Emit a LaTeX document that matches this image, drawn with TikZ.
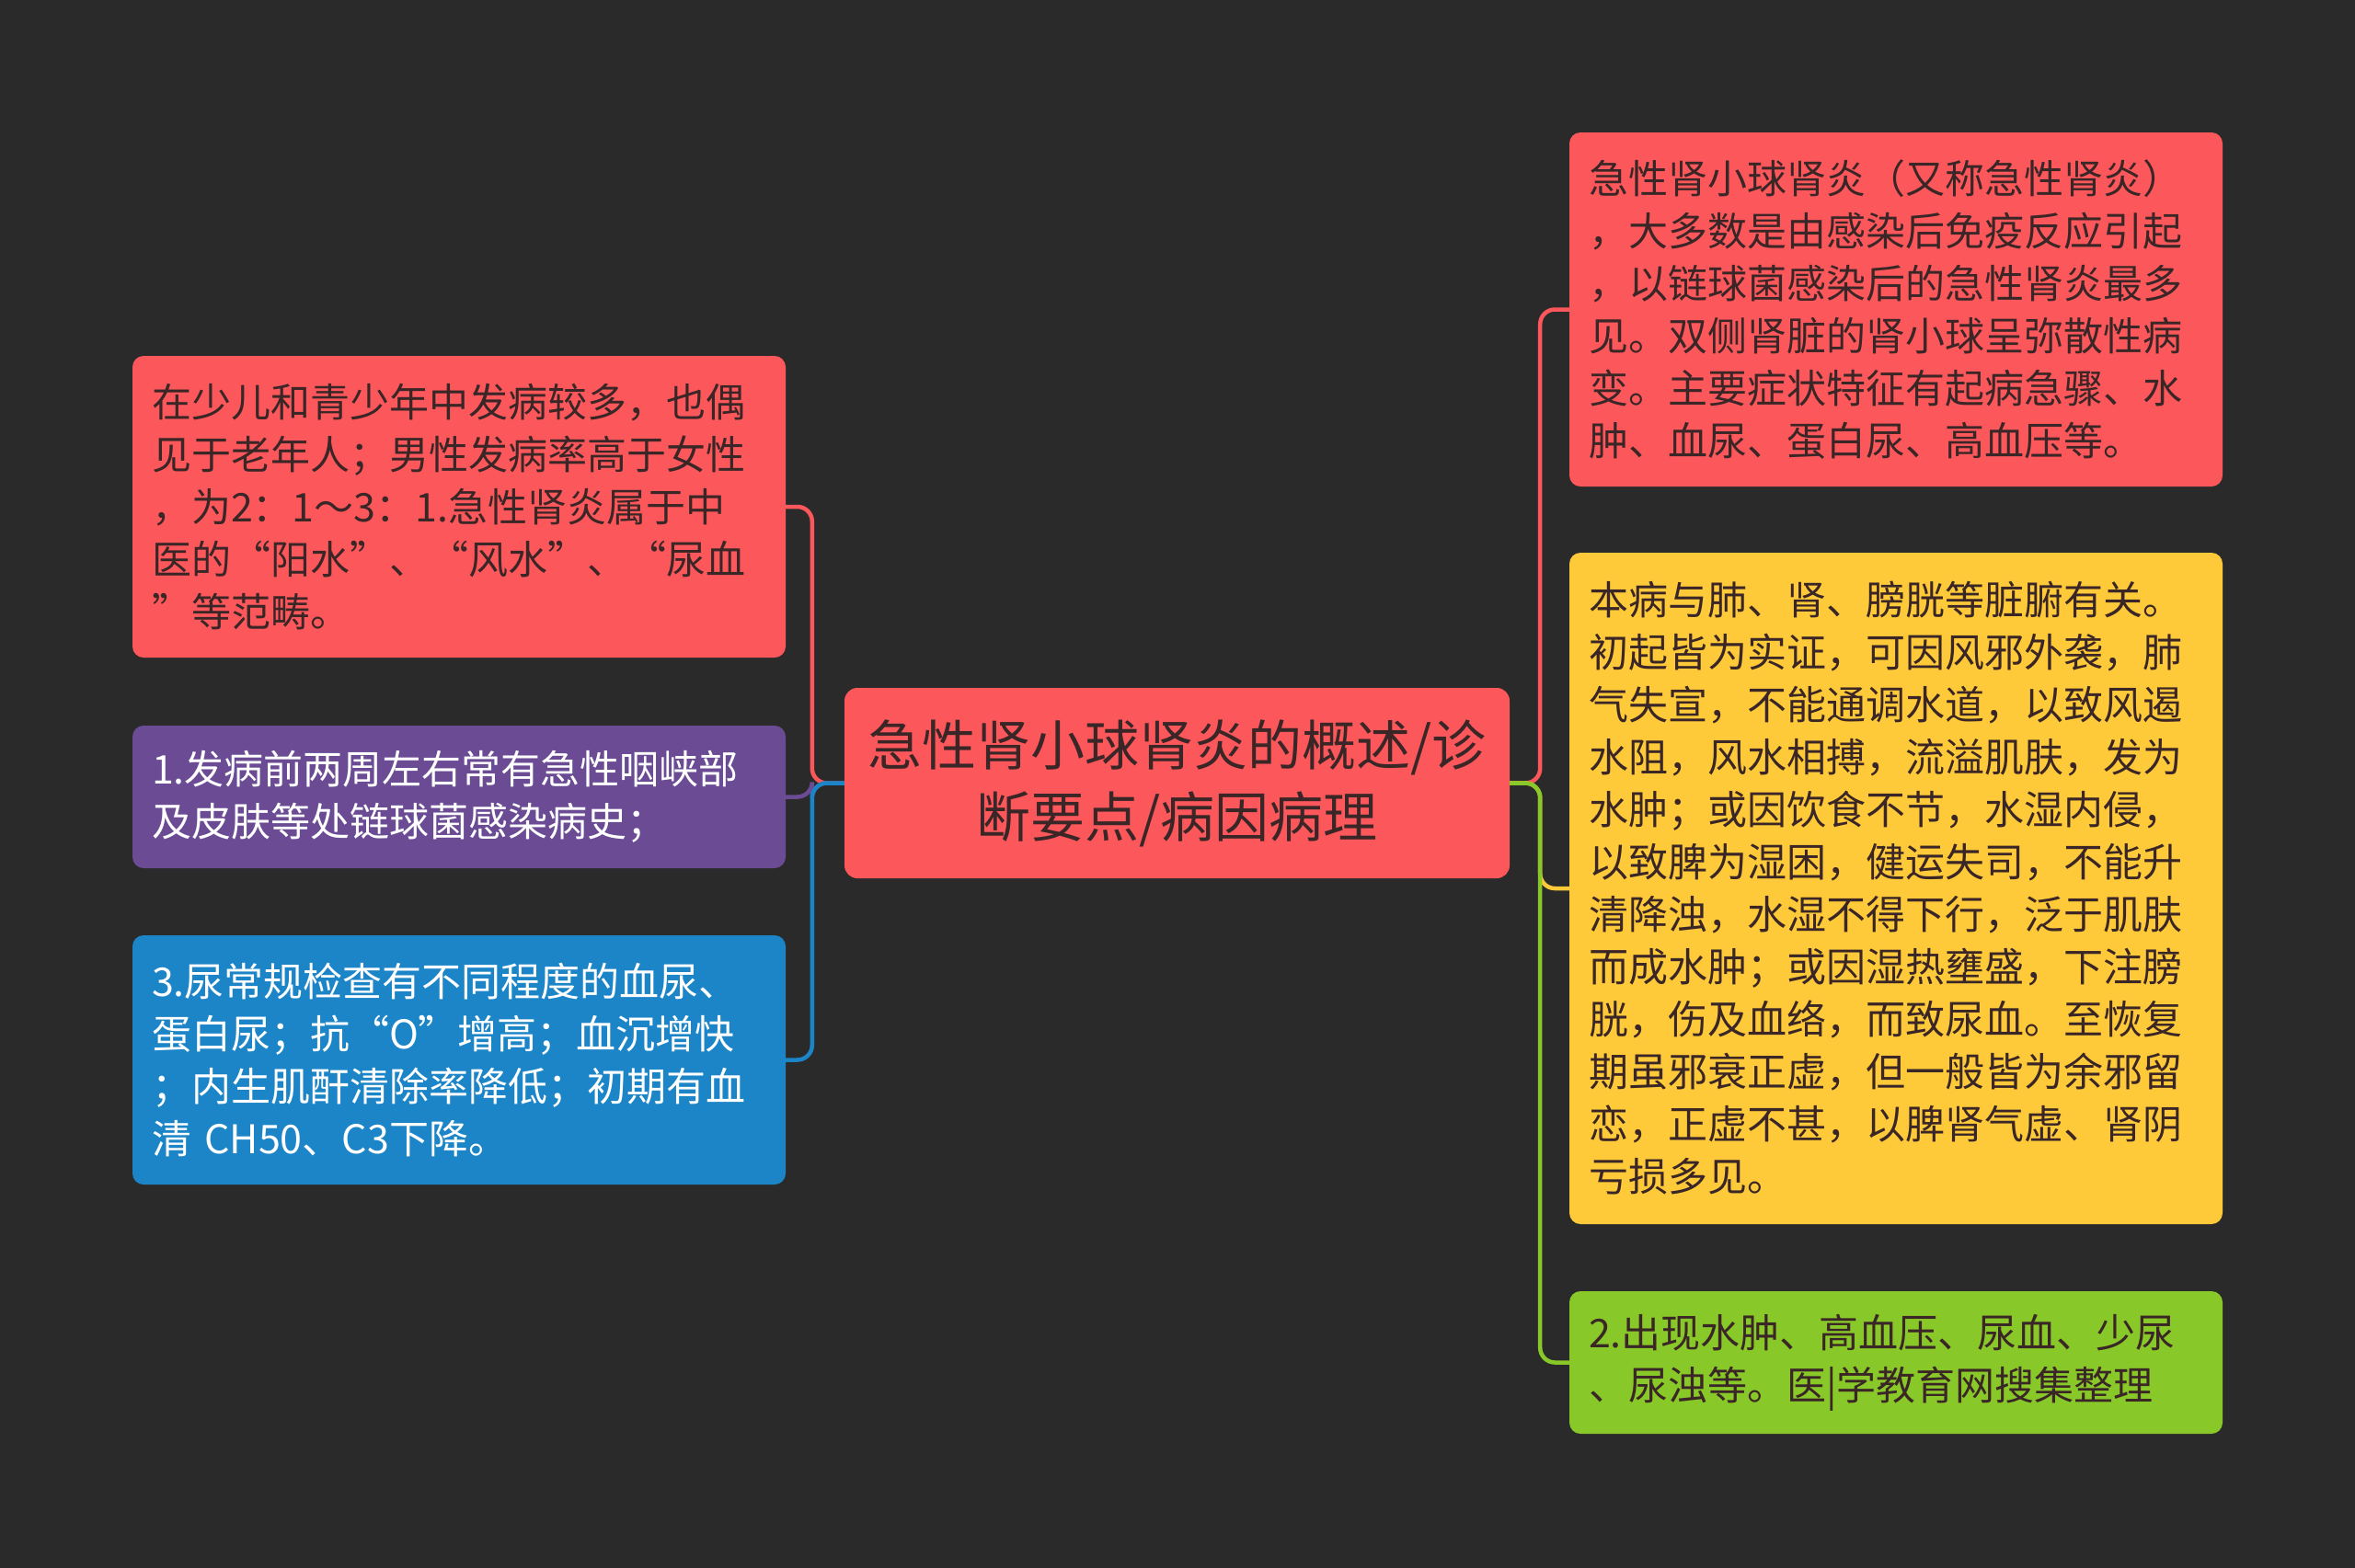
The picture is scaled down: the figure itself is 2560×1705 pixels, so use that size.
\documentclass[tikz,border=0pt]{standalone}
\usepackage{fontspec}
\newfontfamily\cjk{Noto Sans CJK SC}
\definecolor{bg}{HTML}{2A2A2A}
\definecolor{cred}{HTML}{FC585C}
\definecolor{cpurple}{HTML}{6A4B94}
\definecolor{cblue}{HTML}{1B85C8}
\definecolor{cyellow}{HTML}{FECA3A}
\definecolor{cgreen}{HTML}{88C828}
\definecolor{dtext}{HTML}{3A2626}
\tikzset{
  leaf/.style={rounded corners=12pt, inner xsep=21pt, inner ysep=0pt, minimum width=710pt,
    text width=668pt, align=left, font=\cjk\fontsize{43}{57}\selectfont},
  centerbox/.style={rounded corners=14pt, fill=cred, text=dtext, minimum width=723pt, minimum height=207pt,
    align=center, font=\cjk\fontsize{59}{78}\selectfont},
  link/.style={line width=4.5pt, rounded corners=16pt}
}
\begin{document}
\begin{tikzpicture}[x=1pt,y=-1pt]
\fill[bg] (0,0) rectangle (2560,1705);
\useasboundingbox (0,0) rectangle (2560,1705);

\node[centerbox] (c) at (1279.5,851.5) {急性肾小球肾炎的概述/诊\\断要点/病因病理};

\node[leaf, fill=cred, text=dtext, minimum height=328pt] (l1) at (499,551)
  {在少儿和青少年中发病较多，也偶\\见于老年人；男性发病率高于女性\\，为2：1～3：1.急性肾炎属于中\\医的“阳水”、“风水”、“尿血\\”等范畴。};
\node[leaf, fill=cpurple, text=white, minimum height=155pt] (l2) at (499,866.5)
  {1.发病前两周左右常有急性咽峡部\\及皮肤等处链球菌感染病史；};
\node[leaf, fill=cblue, text=white, minimum height=271pt] (l3) at (499,1152.5)
  {3.尿常规检查有不同程度的血尿、\\蛋白尿；抗“O”增高；血沉增快\\；内生肌酐清除率降低；初期有血\\清 CH50、C3下降。};

\node[leaf, fill=cred, text=dtext, minimum height=385pt] (r1) at (2061,336.5)
  {急性肾小球肾炎（又称急性肾炎）\\，大多数是由感染后免疫反应引起\\，以链球菌感染后的急性肾炎最多\\见。双侧肾脏的肾小球呈弥散性病\\变。主要症状特征有起病急骤、水\\肿、血尿、蛋白尿、高血压等。};
\node[leaf, fill=cyellow, text=dtext, minimum height=730pt] (r2) at (2061,966)
  {本病与肺、肾、膀胱等脏腑有关。\\初起皆为实证，可因风邪外袭，肺\\气失宣，不能通调水道，以致风遏\\水阻，风水相搏，流溢肌肤，发为\\水肿；或因饮食不节，水湿内侵，\\以致脾为湿困，健运失司，不能升\\清降浊，水湿不得下行，泛于肌肤\\而成水肿；或因湿热壅盛，下注膀\\胱，伤及血络，而致尿血。至恢复\\期虽邪衰正虚，但一般皆为余邪留\\恋，正虚不甚，以脾肾气虚、肾阴\\亏损多见。};
\node[leaf, fill=cgreen, text=dtext, minimum height=155pt] (r3) at (2061,1481.5)
  {2.出现水肿、高血压、尿血、少尿\\、尿浊等。医|学教育网搜集整理};

\draw[link, draw=cred] (c.west) -- ++(-35,0) |- (l1.east);
\draw[link, draw=cpurple] (c.west) -- ++(-35,0) |- (l2.east);
\draw[link, draw=cblue] (c.west) -- ++(-35,0) |- (l3.east);

\draw[link, draw=cred] (c.east) -- ++(33,0) |- (r1.west);
\draw[link, draw=cyellow] (c.east) -- ++(33,0) |- (r2.west);
\draw[link, draw=cgreen] (c.east) -- ++(33,0) |- (r3.west);
\end{tikzpicture}
\end{document}
